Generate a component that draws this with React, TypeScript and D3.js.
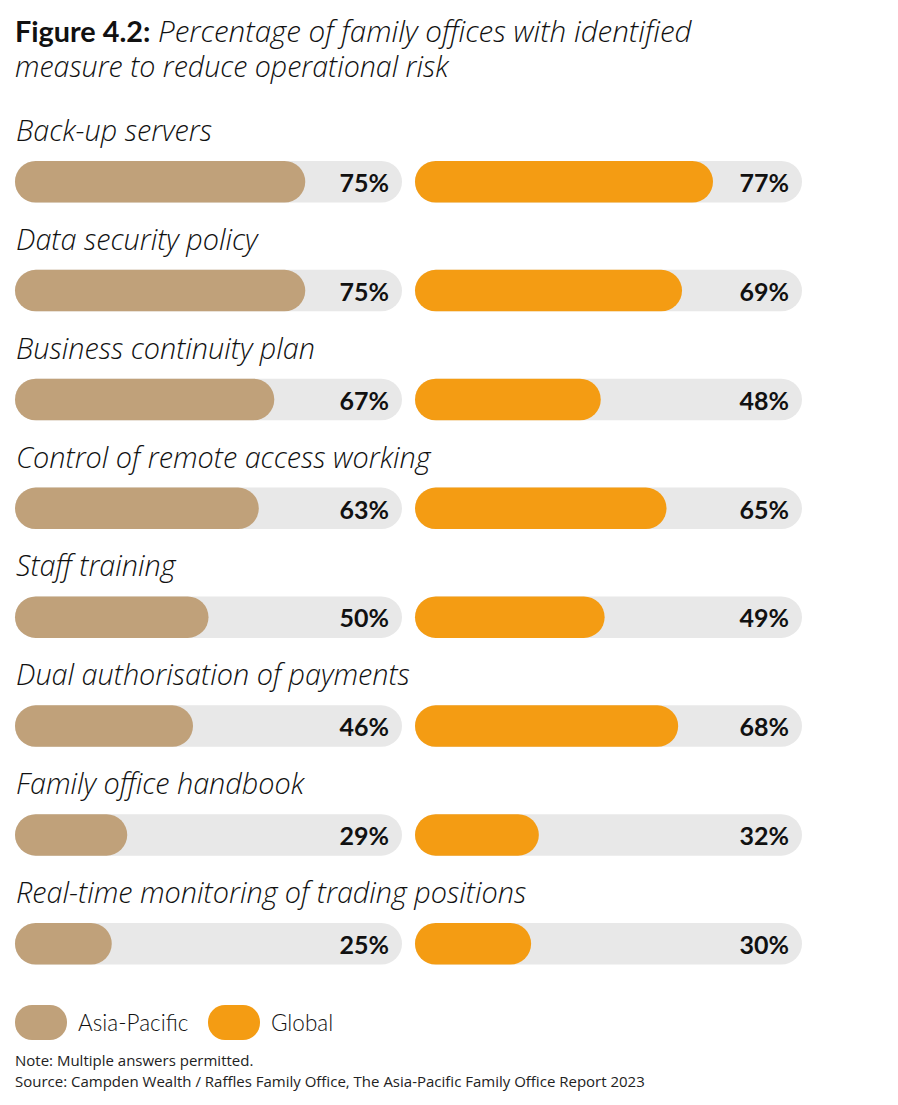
import React from "react";
import * as d3 from "d3";

const categories = [
  "Back-up servers",
  "Data security policy",
  "Business continuity plan",
  "Control of remote access working",
  "Staff training",
  "Dual authorisation of payments",
  "Family office handbook",
  "Real-time monitoring of trading positions",
];
const asiaPacific = [75, 75, 67, 63, 50, 46, 29, 25];
const globalValues = [77, 69, 48, 65, 49, 68, 32, 30];
const seriesNames = ["Asia-Pacific", "Global"];
const seriesColors = ["#C0A17A", "#F49C13"];
const trackColor = "#E8E8E8";

const W = 898;
const H = 1105;
const FONT = "Lato, 'Open Sans', sans-serif";
const ITALIC_FONT = "'Open Sans', Lato, sans-serif";

export default function App() {
  const barH = 41.5;
  const step = 108.86;
  const rowScale = d3
    .scaleBand<string>()
    .domain(categories)
    .range([161, 161 + step * categories.length])
    .paddingInner(0)
    .paddingOuter(0);
  const trackW = 387;
  const panelX = [15, 415];
  const x = d3.scaleLinear().domain([0, 100]).range([0, trackW]);
  const series = [asiaPacific, globalValues];

  return (
    <svg
      width={W}
      height={H}
      style={{ position: "absolute", left: 0, top: 0, background: "#fff" }}
      fontFamily={FONT}
    >
      <text x={15} y={42} fontSize={28.8} fill="#111">
        <tspan fontWeight={700}>Figure 4.2:</tspan>
        <tspan fontFamily={ITALIC_FONT} fontStyle="italic" fontWeight={300} fontSize={29.6}> Percentage of family offices with identified</tspan>
      </text>
      <text x={15} y={77} fontSize={28.6} fill="#111" fontFamily={ITALIC_FONT} fontStyle="italic" fontWeight={300}>
        measure to reduce operational risk
      </text>

      {categories.map((c, i) => {
        const barY = rowScale(c)!;
        return (
          <g key={c}>
            <text x={16} y={barY - 20} fontSize={28.8} fontFamily={ITALIC_FONT} fontStyle="italic" fontWeight={300} fill="#111">
              {c}
            </text>
            {series.map((vals, s) => (
              <g key={s} transform={`translate(${panelX[s]},${barY})`}>
                <rect x={0} y={0} width={x(100)} height={barH} rx={barH / 2} fill={trackColor} />
                <rect x={0} y={0} width={x(vals[i])} height={barH} rx={barH / 2} fill={seriesColors[s]} />
                <text
                  x={x(100) - 13}
                  y={31}
                  textAnchor="end"
                  fontSize={25}
                  fontWeight={700}
                  fill="#111"
                >
                  {vals[i]}%
                </text>
              </g>
            ))}
          </g>
        );
      })}

      {seriesNames.map((n, s) => {
        const lx = [15, 208][s];
        return (
          <g key={n} transform={`translate(${lx},1005)`}>
            <rect x={0} y={0} width={52} height={35} rx={17} fill={seriesColors[s]} />
            <text x={63} y={26} fontSize={22.5} fontWeight={300} fill="#111">
              {n}
            </text>
          </g>
        );
      })}

      <text x={15} y={1066} fontSize={15} fill="#222" fontFamily={ITALIC_FONT} fontWeight={400}>
        Note: Multiple answers permitted.
      </text>
      <text x={15} y={1087} fontSize={15} fill="#222" fontFamily={ITALIC_FONT} fontWeight={400}>
        Source: Campden Wealth / Raffles Family Office, The Asia-Pacific Family Office Report 2023
      </text>
    </svg>
  );
}
